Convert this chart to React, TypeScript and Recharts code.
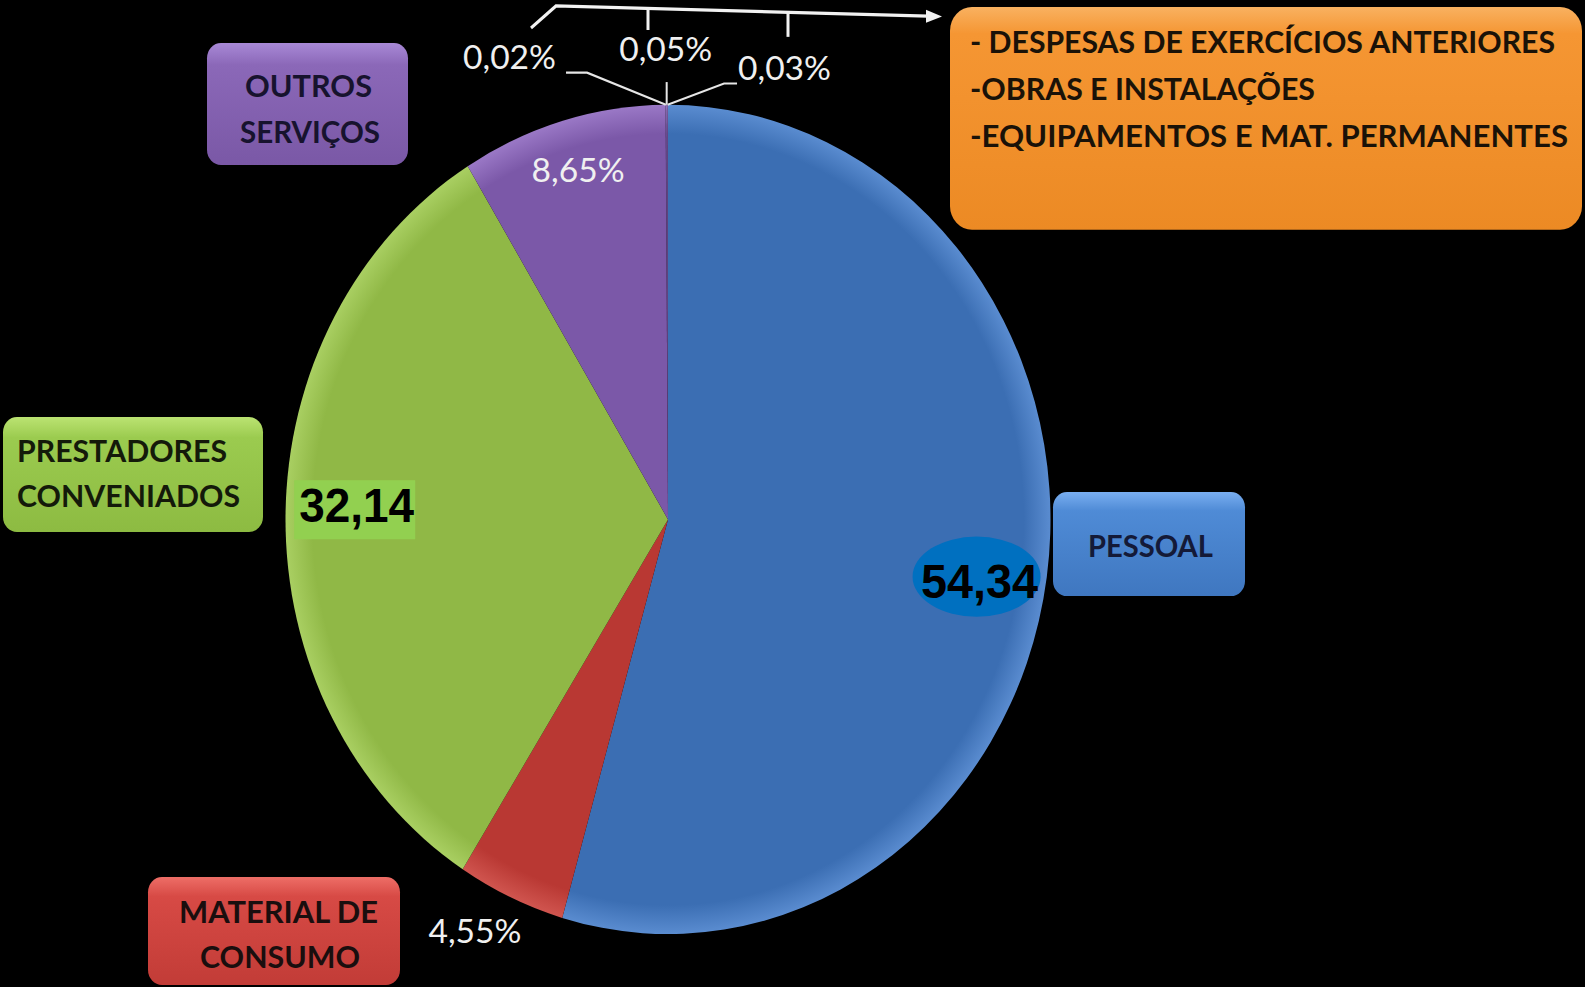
import React from "react";
import { PieChart, Pie, Cell } from "recharts";

// values (percent of total spending)
const categories = [
	"PESSOAL",
	"MATERIAL DE CONSUMO",
	"PRESTADORES CONVENIADOS",
	"OUTROS SERVIÇOS",
	"DESPESAS DE EXERCÍCIOS ANTERIORES",
	"OBRAS E INSTALAÇÕES",
	"EQUIPAMENTOS E MAT. PERMANENTES",
];
const values = [54.34, 4.55, 32.14, 8.65, 0.02, 0.05, 0.03];
const valueLabels = ["54,34", "4,55%", "32,14", "8,65%", "0,02%", "0,05%", "0,03%"];
const sliceColors = ["#3B6EB3", "#B93833", "#90B846", "#7B58A8", "#7B58A8", "#7B58A8", "#7B58A8"];
const sliceRims = ["#5A8CD0", "#D0554F", "#A9CF62", "#9A78C6", "#9A78C6", "#9A78C6", "#9A78C6"];

const boxLines = [
	["PESSOAL"],
	["MATERIAL DE", "CONSUMO"],
	["PRESTADORES", "CONVENIADOS"],
	["OUTROS", "SERVIÇOS"],
];
const noteLines = ["- DESPESAS DE EXERCÍCIOS ANTERIORES", "-OBRAS E INSTALAÇÕES", "-EQUIPAMENTOS E MAT. PERMANENTES"];

const data = categories.map((name, i) => ({ name, value: values[i] }));

// the picture is stretched vertically, so draw in a squeezed space and scale it back
const K = 1.084;
const W = 1585;
const H = 987 / K;
const PIE_CX = 668;
const PIE_CY = 479.2;
const PIE_R = 382.5;
const RAD = Math.PI / 180;

// where each value label sits (relative to its slice)
const labelSpecs: any[] = [
	{ kind: "bubble", r: 0.82, dx: -2, dy: 9 },
	{ kind: "plain", r: 1.12, dx: -17, dy: 0.6 },
	{ kind: "box", r: 0.81, dx: -3.5, dy: -6.5 },
	{ kind: "plain", r: 0.86, dx: 0.6, dy: 5.2 },
	{ kind: "leader", pts: [[-78.8, -29.7], [-99.8, -29.7]], tx: -109.8, ty: -33.1, anchor: "end" },
	{ kind: "leader", pts: [[0, -21]], tx: -0.9, ty: -40.5, anchor: "middle" },
	{ kind: "leader", pts: [[56.4, -19.7], [69.4, -19.7]], tx: 70.4, ty: -22.7, anchor: "start" },
];

const renderLabel = (props: any) => {
	const { cx, cy, midAngle, outerRadius, index } = props;
	const spec = labelSpecs[index];
	const text = valueLabels[index];
	const at = (f: number) => ({
		x: cx + f * outerRadius * Math.cos(-midAngle * RAD),
		y: cy + f * outerRadius * Math.sin(-midAngle * RAD),
	});

	if (spec.kind === "leader") {
		const p = at(1);
		const path = [`M${p.x},${p.y}`, ...spec.pts.map((q: number[]) => `L${p.x + q[0]},${p.y + q[1]}`)].join(" ");
		return (
			<g key={`lbl-${index}`}>
				<path d={path} stroke="#E6E6E6" strokeWidth={2} fill="none" />
				<text x={p.x + spec.tx} y={p.y + spec.ty} textAnchor={spec.anchor} fill="#F0F0F0"
					fontFamily="Lato, sans-serif" fontSize={31} textLength={93} lengthAdjust="spacingAndGlyphs">
					{text}
				</text>
			</g>
		);
	}

	const p = at(spec.r);
	const x = p.x + spec.dx;
	const y = p.y + spec.dy;

	if (spec.kind === "bubble") {
		return (
			<g key={`lbl-${index}`}>
				<ellipse cx={x} cy={y} rx={64} ry={37} fill="#0070C0" />
				<text x={x + 3} y={y + 19.7} textAnchor="middle" fill="#000" fontFamily="'Liberation Sans', Arial, sans-serif"
					fontWeight="bold" fontSize={45} textLength={117} lengthAdjust="spacingAndGlyphs">
					{text}
				</text>
			</g>
		);
	}
	if (spec.kind === "box") {
		return (
			<g key={`lbl-${index}`}>
				<rect x={x - 60.5} y={y - 27.3} width={121} height={54.5} fill="#92D050" />
				<text x={x + 2} y={y + 11.3} textAnchor="middle" fill="#000" fontFamily="'Liberation Sans', Arial, sans-serif"
					fontWeight="bold" fontSize={45} textLength={115} lengthAdjust="spacingAndGlyphs">
					{text}
				</text>
			</g>
		);
	}
	return (
		<text key={`lbl-${index}`} x={x} y={y} textAnchor="middle" fill="#F0F0F0" fontFamily="Lato, sans-serif"
			fontSize={31} textLength={93} lengthAdjust="spacingAndGlyphs">
			{text}
		</text>
	);
};

// category boxes around the pie
const boxes = [
	{ x: 1053, y: 453.9, w: 192, h: 96, top: "#79AEF0", mid: "#4F8BD6", bot: "#3F77C0", text: "#141A38",
		lines: [{ x: 1150.5, y: 514, len: 125, anchor: "middle" }] },
	{ x: 148, y: 809, w: 252, h: 99.6, top: "#EE6E67", mid: "#D74A45", bot: "#C23C37", text: "#1A0E0E",
		lines: [{ x: 278.5, y: 851.5, len: 199, anchor: "middle" }, { x: 280, y: 893, len: 160, anchor: "middle" }] },
	{ x: 3, y: 384.7, w: 260, h: 106, top: "#BBE372", mid: "#9BCB4F", bot: "#8DBB42", text: "#141A0A",
		lines: [{ x: 17, y: 426, len: 210, anchor: "start" }, { x: 17, y: 467.7, len: 223, anchor: "start" }] },
	{ x: 207, y: 39.7, w: 201, h: 112.5, top: "#A889D6", mid: "#8B68B8", bot: "#7A58A6", text: "#17132E",
		lines: [{ x: 308.5, y: 89.5, len: 127, anchor: "middle" }, { x: 310, y: 132, len: 140, anchor: "middle" }] },
];

const noteBox = { x: 950, y: 6.5, w: 632, h: 205.5 };
const noteText = [
	{ x: 970, y: 48.9, len: 585 },
	{ x: 970, y: 92.2, len: 345 },
	{ x: 970, y: 135.6, len: 598 },
];

const Overlay = () => (
	<svg width={W} height={H} style={{ position: "absolute", left: 0, top: 0, pointerEvents: "none" }}>
		<defs>
			{boxes.map((b, i) => (
				<linearGradient key={i} id={`box-${i}`} x1="0" y1="0" x2="0" y2="1">
					<stop offset="0%" stopColor={b.top} />
					<stop offset="18%" stopColor={b.mid} />
					<stop offset="100%" stopColor={b.bot} />
				</linearGradient>
			))}
			<linearGradient id="note-grad" x1="0" y1="0" x2="0" y2="1">
				<stop offset="0%" stopColor="#F9B160" />
				<stop offset="12%" stopColor="#F59633" />
				<stop offset="100%" stopColor="#EC8A24" />
			</linearGradient>
		</defs>

		{boxes.map((b, i) => (
			<g key={i}>
				<rect x={b.x} y={b.y} width={b.w} height={b.h} rx={14} fill={`url(#box-${i})`} />
				{b.lines.map((ln, j) => (
					<text key={j} x={ln.x} y={ln.y} textAnchor={ln.anchor as any} fill={b.text} fontFamily="Lato, sans-serif"
						fontWeight={700} fontSize={28.5} textLength={ln.len} lengthAdjust="spacingAndGlyphs">
						{boxLines[i][j]}
					</text>
				))}
			</g>
		))}

		<rect x={noteBox.x} y={noteBox.y} width={noteBox.w} height={noteBox.h} rx={22} fill="url(#note-grad)" />
		{noteText.map((ln, j) => (
			<text key={j} x={ln.x} y={ln.y} fill="#1A1208" fontFamily="Lato, sans-serif" fontWeight={700} fontSize={27.5}
				textLength={ln.len} lengthAdjust="spacingAndGlyphs">
				{noteLines[j]}
			</text>
		))}

		{/* bracket with arrow pointing to the note */}
		<polyline points="531,25.8 556,5.5 928,14.8" stroke="#F2F2F2" strokeWidth={3} fill="none" />
		<line x1={648} y1={7.7} x2={648} y2={27.7} stroke="#F2F2F2" strokeWidth={3} />
		<line x1={788} y1={11.3} x2={788} y2={34} stroke="#F2F2F2" strokeWidth={3} />
		<polygon points="942,15.2 926,9 926,21" fill="#F2F2F2" />
	</svg>
);

const App = () => {
	return (
		<div style={{ position: "absolute", left: 0, top: 0, width: W, height: 987, background: "#000", overflow: "hidden" }}>
			<div style={{ position: "absolute", left: 0, top: 0, width: W, height: H, transform: `scaleY(${K})`, transformOrigin: "0 0" }}>
				<PieChart width={W} height={H} margin={{ top: 0, right: 0, bottom: 0, left: 0 }}>
					<defs>
						{sliceColors.map((c, i) => (
							<radialGradient key={i} id={`slice-${i}`} gradientUnits="userSpaceOnUse" cx={PIE_CX} cy={PIE_CY} r={PIE_R}>
								<stop offset="0%" stopColor={c} />
								<stop offset="93%" stopColor={c} />
								<stop offset="100%" stopColor={sliceRims[i]} />
							</radialGradient>
						))}
					</defs>
					<Pie
						data={data}
						dataKey="value"
						nameKey="name"
						cx={PIE_CX}
						cy={PIE_CY}
						outerRadius={PIE_R}
						startAngle={90}
						endAngle={-270}
						stroke="none"
						label={renderLabel}
						labelLine={false}
						isAnimationActive={false}
					>
						{data.map((d, i) => (
							<Cell key={d.name} fill={`url(#slice-${i})`} />
						))}
					</Pie>
				</PieChart>
				<Overlay />
			</div>
		</div>
	);
};

export default App;
